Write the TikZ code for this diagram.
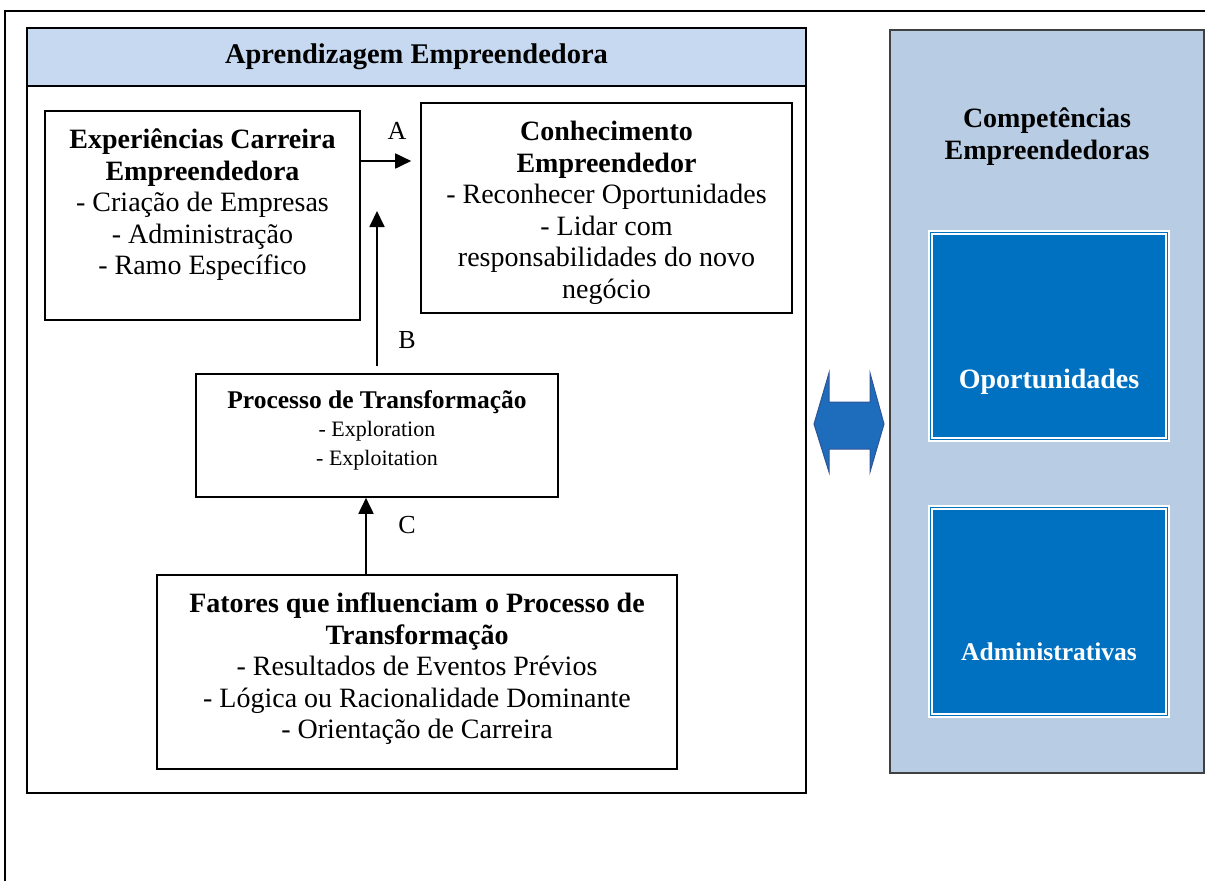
\documentclass[tikz,border=0pt]{standalone}
\usepackage{fontspec}
\setmainfont{Liberation Serif}
\usetikzlibrary{arrows.meta}

\definecolor{headblue}{RGB}{198,217,241}
\definecolor{compblue}{RGB}{184,204,228}
\definecolor{darkblue}{RGB}{0,112,192}
\definecolor{arrowblue}{RGB}{30,108,188}
\definecolor{arrowline}{RGB}{47,85,151}

\tikzset{
  box/.style={draw=black, line width=1.6pt, fill=white, inner sep=0pt},
  txt/.style={align=center, inner sep=0pt, font=\fontsize{28}{31.5}\selectfont},
  smalltxt/.style={align=center, inner sep=0pt, font=\fontsize{22}{28.5}\selectfont},
  headtxt/.style={inner sep=0pt, font=\fontsize{28.5}{32}\selectfont\bfseries},
  lbl/.style={inner sep=0pt, font=\fontsize{26}{30}\selectfont},
  arr/.style={line width=1.8pt, -{Triangle[length=16pt,width=15pt]}},
  compbox/.style={draw=black!75, line width=1.6pt, fill=compblue, inner sep=0pt},
  opout/.style={fill=white, inner sep=0pt, minimum width=242pt},
  opin/.style={draw=darkblue, double=white, double distance=1.6pt, line width=1.4pt, fill=darkblue},
  optxt/.style={inner sep=0pt, text=white, font=\bfseries},
  dblarr/.style={draw=arrowline, line width=1pt, fill=arrowblue}
}

\begin{document}
\begin{tikzpicture}[x=1pt,y=1pt,yscale=-1,xscale=1]
\useasboundingbox (0,0) rectangle (1205,881);

% outer frame
\draw[line width=1.6pt] (5,881) -- (5,11) -- (1205,11);

% Aprendizagem Empreendedora
\node[box, minimum width=779pt, minimum height=765pt] (apr) at (416.5,410.5) {};
\node[box, fill=headblue, minimum width=779pt, minimum height=58pt, anchor=north] (aprhead) at (apr.north) {};
\node[headtxt] (aprtitle) at (aprhead.center) {Aprendizagem Empreendedora};

% Experiencias
\node[box, minimum width=315pt, minimum height=209pt] (exper) at (202.5,215.5) {};
\node[txt] (expertxt) at (202.5,205) {\textbf{Experiências Carreira}\\\textbf{Empreendedora}\\- Criação de Empresas\\- Administração\\- Ramo Específico};

% Conhecimento
\node[box, minimum width=371pt, minimum height=210pt] (conh) at (606.5,208) {};
\node[txt] (conhtxt) at (606.5,213) {\textbf{Conhecimento}\\\textbf{Empreendedor}\\- Reconhecer Oportunidades\\- Lidar com\\responsabilidades do novo\\negócio};

% Processo
\node[box, minimum width=362pt, minimum height=123pt] (proc) at (377,435.5) {};
\node[smalltxt] (proctxt) at (377,430) {{\fontsize{25.5}{28.5}\selectfont\bfseries Processo de Transformação}\\- Exploration\\- Exploitation};

% Fatores
\node[box, minimum width=520pt, minimum height=194pt] (fat) at (417,672) {};
\node[txt] (fattxt) at (417,669) {\textbf{Fatores que influenciam o Processo de}\\\textbf{Transformação}\\- Resultados de Eventos Prévios\\- Lógica ou Racionalidade Dominante\\- Orientação de Carreira};

% arrows
\coordinate (arrA) at (390,161);
\coordinate (bTip) at (377,211);
\coordinate (cX) at (366,540);
\draw[arr, shorten >=9pt] (exper.east |- arrA) -- (conh.west |- arrA);
\draw[arr, shorten <=7pt] (proc.north -| bTip) -- (bTip);
\draw[arr] (fat.north -| cX) -- (proc.south -| cX);
\node[lbl] (labA) at (397,131) {A};
\node[lbl] (labB) at (407,340) {B};
\node[lbl] (labC) at (407,525) {C};

% double arrow
\draw[dblarr] (814,424) -- (829,373) -- (829,402) -- (870,402) -- (870,373) -- (884,424) -- (870,472) -- (870,449) -- (829,449) -- (829,472) -- cycle;

% Competencias
\node[compbox, minimum width=314pt, minimum height=743pt] (comp) at (1047,401.5) {};
\node[txt, font=\fontsize{28}{32}\selectfont\bfseries] (comptxt) at (1047,137) {Competências\\Empreendedoras};

\node[opout, minimum height=212pt] (opor) at (1049,336) {};
\draw[opin] ([shift={(4,4)}]opor.north west) rectangle ([shift={(-4,-4)}]opor.south east);
\node[optxt, font=\fontsize{28}{32}\selectfont\bfseries] (oportxt) at (1049,382) {Oportunidades};

\node[opout, minimum height=213pt] (adm) at (1049,611.5) {};
\draw[opin] ([shift={(4,4)}]adm.north west) rectangle ([shift={(-4,-4)}]adm.south east);
\node[optxt, font=\fontsize{25.5}{30}\selectfont\bfseries] (admtxt) at (1049,652) {Administrativas};

\end{tikzpicture}
\end{document}
